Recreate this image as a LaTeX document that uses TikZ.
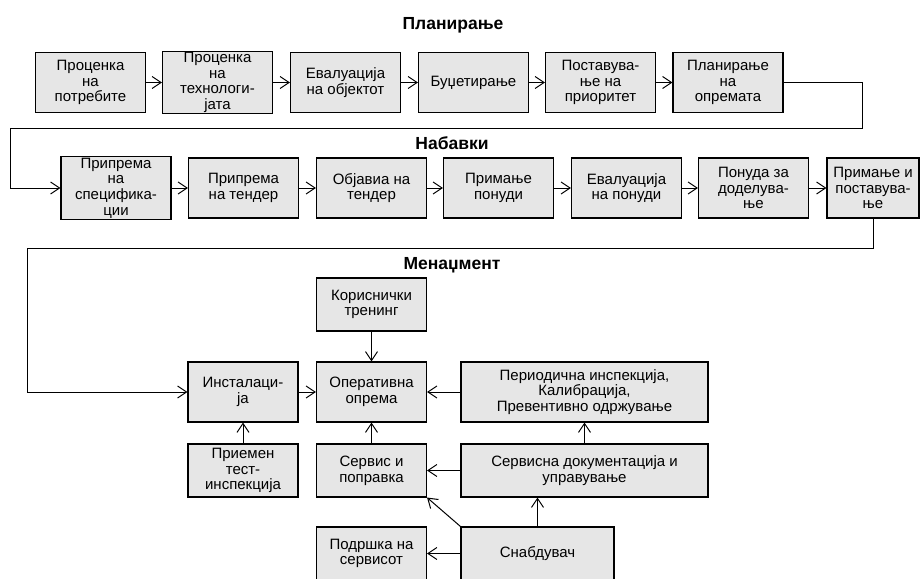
\documentclass[tikz,border=0pt]{standalone}
\usepackage{fontspec}
\setmainfont{Liberation Sans}
\usepackage{xcolor}
\usetikzlibrary{arrows.meta,positioning}
\definecolor{boxgray}{RGB}{230,230,230}

\begin{document}
\begin{tikzpicture}[x=1pt,y=-1pt,line width=1pt,
  >={Straight Barb[length=9pt,width=12pt]},
  box/.style={rectangle, draw, fill=boxgray, line width=1.1pt, minimum width=110pt, minimum height=60pt, align=center, inner sep=1pt, font=\fontsize{15}{15.7}\selectfont},
  lowbox/.style={box, minimum height=53pt},
  title/.style={font=\bfseries\fontsize{17.5}{20}\selectfont}]
\clip (0,0) rectangle (920,578);

\node[title] (tplan) at (453,25) {Планирање};
\node[box] (proc1) at (90.5,82.5) {Проценка\\на\\потребите};
\node[box] (proc2) at (217.5,82.5) {Проценка\\на\\технологи-\\јата};
\node[box] (evalobj) at (345.5,82.5) {Евалуација\\на објектот};
\node[box] (budz) at (473.5,82.5) {Буџетирање};
\node[box] (postav) at (600.5,82.5) {Поставува-\\ње на\\приоритет};
\node[box] (planop) at (728,82.5) {Планирање\\на\\опремата};

\node[title] (tnab) at (452,143) {Набавки};
\node[box] (pripspec) at (116,188) {Припрема\\на\\специфика-\\ции};
\node[box] (priptend) at (243.5,188) {Припрема\\на тендер};
\node[box] (objava) at (371.5,188) {Објавиа на\\тендер};
\node[box] (primpon) at (498.5,188) {Примање\\понуди};
\node[box] (evalpon) at (626.5,188) {Евалуација\\на понуди};
\node[box] (ponuda) at (753.5,188) {Понуда за\\доделува-\\ње};
\node[box, minimum width=92pt] (primanje) at (873,188) {Примање и\\поставува-\\ње};

\node[title] (tmen) at (452,265) {Менаџмент};
\node[lowbox] (korisn) at (371.5,304.5) {Кориснички\\тренинг};
\node[box] (operat) at (371.5,392) {Оперативна\\опрема};
\node[box] (instal) at (243,392) {Инсталаци-\\ја};
\node[lowbox] (priemen) at (243,470.5) {Приемен\\тест-\\инспекција};
\node[lowbox] (servis) at (371.5,470.5) {Сервис и\\поправка};
\node[lowbox] (podrska) at (371.5,553.5) {Подршка на\\сервисот};
\node[box, minimum width=247pt] (period) at (584.5,392) {Периодична инспекција,\\Калибрација,\\Превентивно одржување};
\node[lowbox, minimum width=247pt] (sdok) at (584.5,470.5) {Сервисна документација и\\управување};
\node[lowbox, minimum width=153pt] (snabd) at (537.5,553.5) {Снабдувач};

\coordinate (k1) at (862,128);
\coordinate (k2) at (10,128);
\coordinate (k3) at (27,248);

\draw[->] (proc1) -- (proc2);
\draw[->] (proc2) -- (evalobj);
\draw[->] (evalobj) -- (budz);
\draw[->] (budz) -- (postav);
\draw[->] (postav) -- (planop);
\draw[->] (planop.east) -| (k1) -- (k2) |- (pripspec.west);

\draw[->] (pripspec) -- (priptend);
\draw[->] (priptend) -- (objava);
\draw[->] (objava) -- (primpon);
\draw[->] (primpon) -- (evalpon);
\draw[->] (evalpon) -- (ponuda);
\draw[->] (ponuda) -- (primanje);
\draw[->] (primanje.south) |- (k3) |- (instal.west);

\draw[->] (korisn) -- (operat);
\draw[->] (instal) -- (operat);
\draw[->] (period) -- (operat);
\draw[->] (priemen) -- (instal);
\draw[->] (servis) -- (operat);
\draw[->] (sdok) -- (servis);
\draw[->] (sdok) -- (period);
\draw[->] (snabd.north) -- (snabd.north |- sdok.south);
\draw[->] (snabd.north west) -- (servis.south east);
\draw[->] (snabd) -- (podrska);
\end{tikzpicture}
\end{document}
